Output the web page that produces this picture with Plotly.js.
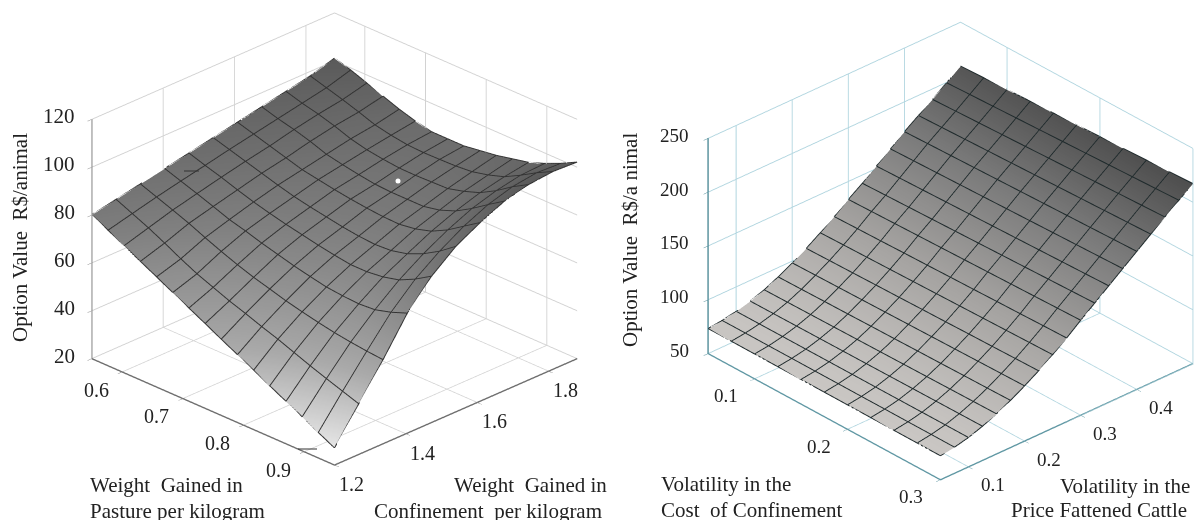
<!DOCTYPE html>
<html><head><meta charset="utf-8">
<script src="https://cdn.plot.ly/plotly-3.0.1.min.js"></script>
<style>html,body{margin:0;padding:0;background:#fff}#c{width:1201px;height:520px}</style></head>
<body><div id="c"></div>
<script>
const pastureGain=[0.55,0.5767,0.6033,0.63,0.6567,0.6833,0.71,0.7367,0.7633,0.79,0.8167,0.8433,0.87,0.8967,0.9233,0.95];
const confinementGain=[1.2,1.268,1.336,1.404,1.472,1.54,1.608,1.676,1.744,1.812,1.88];
const optionValueLeft=[
[80,76.5,73,69.4,65.9,62.3,58.8,55.3,51.7,48.2,44.7,41.1,37.6,34.1,30.5,27],
[82,79,76,72.6,69,65.7,63,60.3,58,55.5,53.2,50.6,48,45.6,43.3,41],
[84,81.5,79,76.4,73.4,70.6,68,65.7,63.8,61.8,60.2,58.7,57.4,56.4,55.6,55],
[86,83.7,81.4,79,76.5,74.7,72.6,70.8,69,67.5,66.1,65.4,65,65.5,67.4,70],
[88,85.8,83.8,81.5,79.4,77.6,76,74.6,73.2,72,71,71,71.8,73.5,76.8,81],
[90,88,86,84,82,80.2,78.8,77.6,76.4,75.5,75,75.4,77,80,84,89],
[92,90,88,86,84,82.8,81.6,80.6,79.8,79.2,79,80,82,85.5,90,94.5],
[94,92,90.4,88.4,86,84.6,83.4,82.4,82,82,82,83.4,86,90,94.6,99],
[96,94,92.4,90.4,88,86.4,85.4,84.7,84.6,84.8,85,86.8,89.2,93,97.6,101.5],
[98,96,94,91.8,89.4,88,87,86.7,86.8,87,87.6,89.2,91.4,95,99,102.5],
[101,99,96.5,94,91.5,89.5,88,88,88,89,90,91.5,93,95.5,98.5,102]];
const costVol=[0.05,0.075,0.1,0.125,0.15,0.175,0.2,0.225,0.25,0.275,0.3];
const priceVol=[0.05,0.075,0.1,0.125,0.15,0.175,0.2,0.225,0.25,0.275,0.3,0.325,0.35,0.375,0.4,0.425,0.45,0.475,0.5];
const optionValueRight=[
[73,72.9,72.8,72.7,72.6,72.5,72.4,72.3,72.2,72.1,72],
[74.5,74.5,74.4,74.4,74.3,74.3,74.2,74.2,74.1,74.1,74],
[77,77,77,77,77,77,77,77,77,77,77],
[80.5,80.6,80.7,80.8,80.9,81,81.1,81.2,81.3,81.4,81.5],
[85,85.2,85.4,85.6,85.8,86,86.2,86.4,86.6,86.8,87],
[91,91.2,91.5,91.7,92,92.2,92.5,92.7,93,93.2,93.5],
[98,98.3,98.6,98.9,99.2,99.5,99.8,100.1,100.4,100.7,101],
[105.5,105.9,106.2,106.6,106.9,107.3,107.6,108,108.3,108.7,109],
[114,114.4,114.8,115.2,115.6,116,116.4,116.8,117.2,117.6,118],
[123,123.5,123.9,124.4,124.8,125.3,125.7,126.2,126.6,127.1,127.5],
[133,133.5,134,134.5,135,135.5,136,136.5,137,137.5,138],
[142,142.6,143.2,143.8,144.4,145,145.6,146.2,146.8,147.4,148],
[152,152.6,153.2,153.8,154.4,155,155.6,156.2,156.8,157.4,158],
[162,162.6,163.2,163.8,164.4,165,165.6,166.2,166.8,167.4,168],
[172,172.6,173.2,173.8,174.4,175,175.6,176.2,176.8,177.4,178],
[181,181.7,182.4,183.1,183.8,184.5,185.2,185.9,186.6,187.3,188],
[190,190.8,191.6,192.4,193.2,194,194.8,195.6,196.4,197.2,198],
[199.5,200.3,201.1,201.9,202.7,203.5,204.3,205.1,205.9,206.7,207.5],
[209,209.8,210.6,211.4,212.2,213,213.8,214.6,215.4,216.2,217]];
const leftXTicks=[0.6,0.7,0.8,0.9], leftYTicks=[1.2,1.4,1.6,1.8], leftZTicks=[20,40,60,80,100,120];
const rightXTicks=[0.1,0.2,0.3], rightYTicks=[0.1,0.2,0.3,0.4], rightZTicks=[50,100,150,200,250];

const FONT='"Liberation Serif","Times New Roman",serif';
function lab(x,y,z,t,xs,ys,anc,size){return {x,y,z,text:String(t),showarrow:false,xshift:xs,yshift:ys,xanchor:anc||'center',yanchor:'middle',font:{family:FONT,size:size||20,color:'#222'}};}
function fix(v){return v.toFixed(1);}
function axis(range,ticks,grid,line){return {range,tickvals:ticks,showticklabels:false,ticks:'outside',ticklen:6,tickcolor:line,showgrid:true,gridcolor:grid,gridwidth:2,showline:true,linecolor:line,linewidth:3,zeroline:false,showbackground:false,showspikes:false,title:{text:''},autorange:false};}
// grid lines of a surface, running through the table's own rows and columns
function mesh(xs,ys,zs,scene,color,width,lift){
  const X=[],Y=[],Z=[];
  ys.forEach((y,j)=>{xs.forEach((x,i)=>{X.push(x);Y.push(y);Z.push(zs[j][i]+lift);});X.push(null);Y.push(null);Z.push(null);});
  xs.forEach((x,i)=>{ys.forEach((y,j)=>{X.push(x);Y.push(y);Z.push(zs[j][i]+lift);});X.push(null);Y.push(null);Z.push(null);});
  return {type:'scatter3d',mode:'lines',scene,x:X,y:Y,z:Z,line:{color,width},hoverinfo:'skip',connectgaps:false};
}
const flat={ambient:1,diffuse:0,specular:0,roughness:1,fresnel:0};
const traces=[
{type:'surface',scene:'scene',x:pastureGain,y:confinementGain,z:optionValueLeft,showscale:false,hoverinfo:'skip',
 colorscale:[[0,'#e6e6e6'],[0.3,'#a9a9a9'],[0.65,'#7f7f7f'],[1,'#585858']],lighting:flat},
mesh(pastureGain,confinementGain,optionValueLeft,'scene','#333',2,0.15),
{type:'surface',scene:'scene2',x:costVol,y:priceVol,z:optionValueRight,showscale:false,hoverinfo:'skip',
 colorscale:[[0,'#c9c6c3'],[0.35,'#a5a3a1'],[0.7,'#7a7a7a'],[1,'#4e4e4e']],lighting:flat},
mesh(costVol,priceVol,optionValueRight,'scene2','#1f2a2c',2,0.3)];

const leftAnn=[].concat(
 leftXTicks.map(v=>lab(v,1.2,20,fix(v),-26,-18)),
 leftYTicks.map(v=>lab(0.95,v,20,fix(v),17,-19)),
 leftZTicks.map(v=>lab(0.55,1.2,v,v,-15,3,'right',21)));
const rightAnn=[].concat(
 rightXTicks.map(v=>lab(v,0.05,50,fix(v),-29,-17,'center',19)),
 rightYTicks.map(v=>lab(0.3,v,50,fix(v),24,-18,'center',19)),
 rightZTicks.map(v=>lab(0.05,0.05,v,v,-17,3,'right',19)));

function paperText(px,py,t,angle,anchor,size){return {xref:'paper',yref:'paper',x:px/1201,y:1-py/520,text:t,showarrow:false,textangle:angle||0,xanchor:anchor||'left',yanchor:'middle',font:{family:FONT,size:size||21,color:'#222'}};}
const titles=[
 paperText(88,485,'Weight  Gained in'),paperText(88,511,'Pasture per kilogram'),
 paperText(452,485,'Weight  Gained in'),paperText(372,511,'Confinement  per kilogram'),
 paperText(659,484,'Volatility in the'),paperText(659,510,'Cost  of Confinement'),
 paperText(1058,486,'Volatility in the'),paperText(1009,510,'Price Fattened Cattle'),
 paperText(20,238,'Option Value  R$/animal',-90,'center',21),
 paperText(630,240,'Option Value  R$/a nimal',-90,'center',21)];
function dash(x0,y0,x1,y1){return {type:'line',xref:'paper',yref:'paper',x0:x0/1201,y0:1-y0/520,x1:x1/1201,y1:1-y1/520,line:{color:'#333',width:1}};}

const layout={width:1201,height:520,margin:{l:0,r:0,t:0,b:0},paper_bgcolor:'#fff',showlegend:false,annotations:titles,
 shapes:[dash(184,171,199,171),dash(298,449,317,449),
  {type:'circle',xref:'paper',yref:'paper',x0:395.5/1201,x1:400.5/1201,y0:1-183.5/520,y1:1-178.5/520,fillcolor:'#fff',line:{width:0}}],
 scene:{domain:{x:[0,669/1201],y:[0.081,1]},aspectmode:'manual',aspectratio:{x:1.436,y:1.436,z:1.114},
  camera:{projection:{type:'orthographic'},eye:{x:1,y:-1,z:0.69},up:{x:0,y:0,z:1},center:{x:0,y:0,z:0}},
  xaxis:axis([0.55,0.95],leftXTicks,'#d2d2d2','#6e6e6e'),yaxis:axis([1.2,1.88],leftYTicks,'#d2d2d2','#6e6e6e'),zaxis:axis([20,120],leftZTicks,'#d2d2d2','#8a8a8a'),annotations:leftAnn},
 scene2:{domain:{x:[700/1201,1],y:[0.0346,1]},aspectmode:'manual',aspectratio:{x:1.367,y:1.367,z:0.99},
  camera:{projection:{type:'orthographic'},eye:{x:1.03,y:-0.948,z:0.808},up:{x:0,y:0,z:1},center:{x:0,y:0,z:0}},
  xaxis:axis([0.05,0.3],rightXTicks,'#b0d5df','#5f97a3'),yaxis:axis([0.05,0.5],rightYTicks,'#b0d5df','#5f97a3'),zaxis:axis([50,250],rightZTicks,'#b0d5df','#4d8a96'),annotations:rightAnn}};
Plotly.newPlot('c',traces,layout,{displayModeBar:false});
</script></body></html>
